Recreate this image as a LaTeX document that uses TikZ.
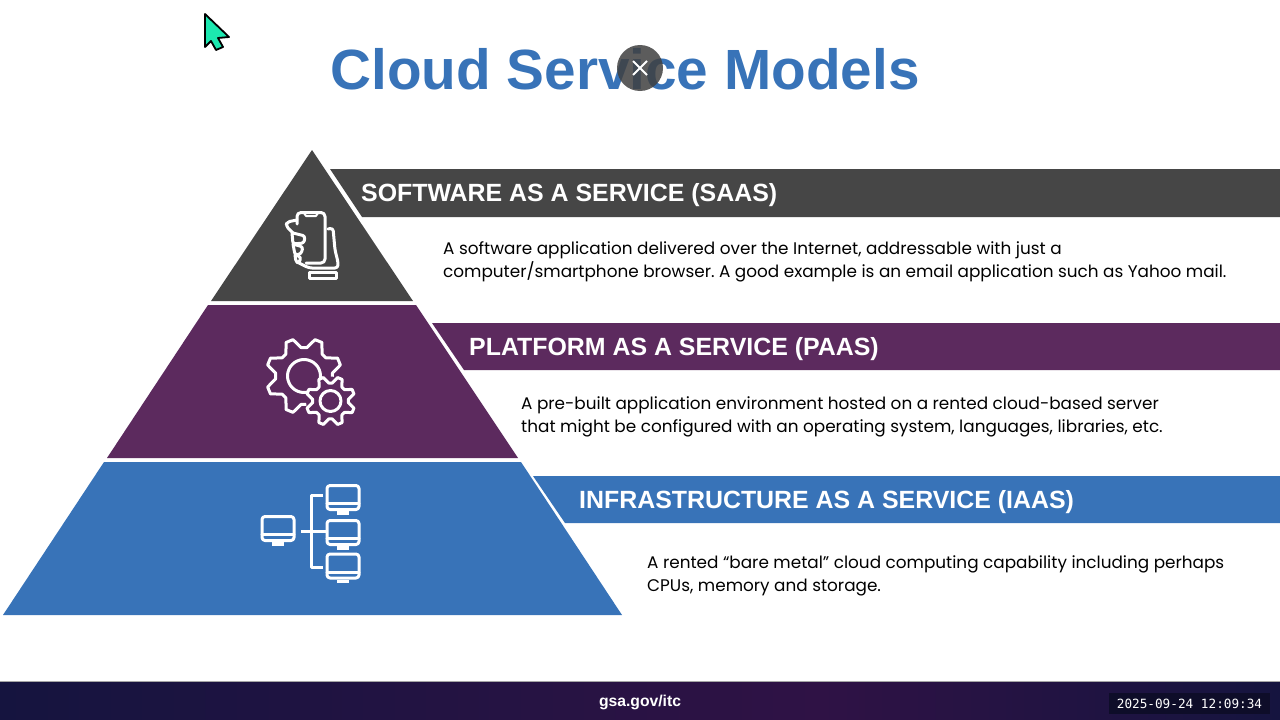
\documentclass[tikz,border=0pt]{standalone}
\usepackage{fontspec}
\setmainfont{Liberation Sans}
\newfontfamily\bodyfont{Poppins}
\newfontfamily\clockfont{DejaVu Sans Mono}
\usepackage{tikz}
\definecolor{slateC}{HTML}{464646}
\definecolor{plumC}{HTML}{5C2A5E}
\definecolor{blueC}{HTML}{3873B8}
\definecolor{footC}{HTML}{15143F}
\definecolor{footmidC}{HTML}{2F1245}
\definecolor{mintC}{HTML}{1CE8B0}
\tikzset{
    head/.style={anchor=west,text=white,font=\fontsize{24.9}{28}\selectfont\bfseries,inner sep=0pt},
    body/.style={anchor=north west,align=left,text=black,font=\fontsize{16.85}{23.2}\selectfont\bodyfont\frenchspacing,inner sep=0pt},
    icon/.style={draw=white,line width=3pt,line join=round,line cap=round}
}
\newcommand{\monitor}[1]{%
    \draw[icon,rounded corners=3pt] (#1) ++(-16,-12) rectangle ++(32,24);
    \draw[icon] (#1) ++(-16,6) -- ++(32,0);
    \draw[icon,line cap=butt,line width=3.5pt] (#1) ++(-6,15.5) -- ++(12,0);
}
\begin{document}
\begin{tikzpicture}[x=1pt,y=-1pt]
    \useasboundingbox (0,0) rectangle (1280,720);
    \fill[white] (0,0) rectangle (1280,720);

    % Title
    \node (Title) at (625,69) [text=blueC,font=\fontsize{56.7}{60}\selectfont\bfseries,inner sep=0pt] {Cloud Service Models};

    % Pyramid levels
    \fill[slateC] (312,150) -- (413,301) -- (211,301) -- cycle;
    \fill[plumC]  (208,305) -- (416,305) -- (518,458) -- (107,458) -- cycle;
    \fill[blueC]  (104,462) -- (521,462) -- (622,615) -- (3,615) -- cycle;

    % Heading bars
    \fill[slateC] (330,169) -- (1280,169) -- (1280,217) -- (362,217) -- cycle;
    \fill[plumC]  (432,323) -- (1280,323) -- (1280,370) -- (464,370) -- cycle;
    \fill[blueC]  (533,476) -- (1280,476) -- (1280,523) -- (565,523) -- cycle;

    \node (Hsaas) at (361,195.5) [head] {SOFTWARE AS A SERVICE (SAAS)};
    \node (Hpaas) at (469,349) [head] {PLATFORM AS A SERVICE (PAAS)};
    \node (Hiaas) at (579,502) [head] {INFRASTRUCTURE AS A SERVICE (IAAS)};

    \node (Bsaas) at (443,241) [body] {A software application delivered over the Internet, addressable with just a\\computer/smartphone browser. A good example is an email application such as Yahoo mail.};
    \node (Bpaas) at (521,396.5) [body] {A pre-built application environment hosted on a rented cloud-based server\\that might be configured with an operating system, languages, libraries, etc.};
    \node (Biaas) at (647,555.5) [body] {A rented “bare metal” cloud computing capability including perhaps\\CPUs, memory and storage.};

    % Phone in hand
    \draw[icon,rounded corners=4pt] (297,224) -- (297,212.5) -- (325,212.5) -- (325,263) -- (306,263);
    \draw[icon,line width=2pt] (304,213) -- ++(2,3) -- (316,216) -- ++(2,-3);
    \draw[icon,rounded corners=3pt] (297,220) -- (287,222) -- (286,226) -- (293,233);
    \draw[icon,rounded corners=2.5pt] (293,233) -- (305,236) -- (304,243) -- (293,244) -- (292,233);
    \draw[icon,rounded corners=2.5pt] (293,244) -- (303,247) -- (301,254) -- (295,255) -- (293,244);
    \draw[icon,rounded corners=2.5pt] (295,255) -- (301,257) -- (299,263) -- (296,262) -- (295,255);
    \draw[icon,rounded corners=3pt] (328,229) -- (333,228) -- (335,250) -- (338,262) -- (338,268) -- (309,268) -- (299,263);
    \draw[icon] (309,272) rectangle (336,278);

    % Gears
    \foreach \cx/\cy/\ro/\ri/\rh/\tn in {304/376/38/28.5/16.5/8,330.5/401/24.5/18/10.5/8} {
        \fill[plumC] (\cx,\cy) circle (\ro);
        \draw[icon] (\cx,\cy) circle (\rh);
        \draw[icon] plot[samples at={0,...,\the\numexpr\tn*4-1\relax},variable=\k]
            ({\cx+(mod(\k,4)<2?\ro:\ri)*cos((\k-0.5)*90/\tn+22.5)},{\cy+(mod(\k,4)<2?\ro:\ri)*sin((\k-0.5)*90/\tn+22.5)}) -- cycle;
    }

    % Network of monitors
    \coordinate (Mleft) at (278,528.5);
    \coordinate (Mtop) at (343,497.5);
    \coordinate (Mmid) at (343,532.5);
    \coordinate (Mbot) at (343,566);
    \foreach \m in {Mleft,Mtop,Mmid,Mbot}
        \monitor{\m};
    \draw[icon,line cap=butt] (301,531) -- (326,531);
    \draw[icon,line cap=butt] (323,495) -- (311,495) -- (311,567) -- (323,567);

    % Footer bar
    \fill[gray!70] (0,681) rectangle (1280,682);
    \shade[left color=footC,right color=footmidC] (0,682) rectangle (820,720);
    \shade[left color=footmidC,right color=footC] (820,682) rectangle (1280,720);
    \node (Foot) at (640,702) [text=white,font=\fontsize{15.7}{18}\selectfont\bfseries,inner sep=0pt] {gsa.gov/itc};
    \node (Clock) at (1189.5,703.5) [fill=footC!65!black,minimum width=161pt,minimum height=21pt,inner sep=0pt,text=white,font=\fontsize{12.7}{14}\selectfont\clockfont] {2025-09-24 12:09:34};

    % Close button
    \fill[black!75,opacity=.85] (640,68) circle (23);
    \coordinate (Xa) at (633,61);
    \coordinate (Xb) at (647,75);
    \coordinate (Xc) at (647,61);
    \coordinate (Xd) at (633,75);
    \draw[white,line width=1.8pt] (Xa) -- (Xb) (Xc) -- (Xd);

    % Pointer
    \draw[fill=mintC,draw=black,line width=1.8pt,line join=round] (205,14) -- (229,37) -- (218,38) -- (223,47) -- (216,50) -- (211,41) -- (205,47) -- cycle;
\end{tikzpicture}
\end{document}
